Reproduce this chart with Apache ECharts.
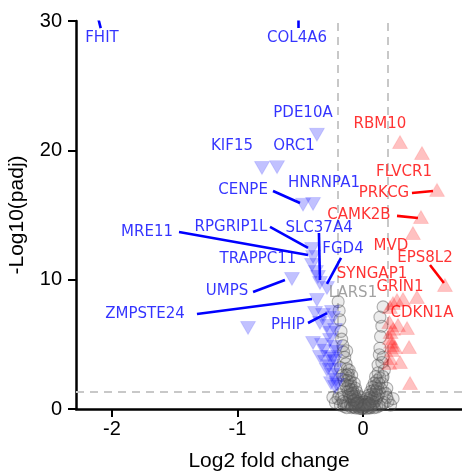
<!DOCTYPE html>
<html><head><meta charset="utf-8">
<script src="https://cdn.jsdelivr.net/npm/echarts@6/dist/echarts.min.js"></script>
<style>html,body{margin:0;padding:0;background:#fff}#c{width:462px;height:471px}</style>
</head><body><div id="c"></div>
<script>
// ---- data (log2 fold change, -log10 padj) ----
const xTicks = [-2, -1, 0];
const yTicks = [0, 10, 20, 30];
const fcCut = 0.2;
const padjCut = 1.3;

const downPoints = [
  [-2.096,31.5],[-0.518,31.2],[-0.367,21.2],[-0.805,18.64],[-0.685,18.7],[-0.478,15.8],[-0.398,15.85],
  [-0.406,12.37],[-0.398,11.76],[-0.406,11.14],[-0.375,10.6],[-0.359,10.21],[-0.566,10.05],[-0.343,9.74],
  [-0.287,9.36],[-0.367,8.43],[-0.916,6.26],[-0.382,7.42],[-0.319,7.27],[-0.247,7.5],[-0.239,7.04],
  [-0.343,6.65],[-0.287,6.42],[-0.223,6.11],[-0.263,5.88],[-0.398,5.1],[-0.327,4.95],[-0.263,5.34],
  [-0.223,4.8],[-0.215,4.41],[-0.343,4.02],[-0.263,4.02],[-0.223,3.71],[-0.303,3.63],[-0.287,3.02],
  [-0.223,3.02],[-0.247,2.63],[-0.215,2.24],[-0.223,1.7],[-0.207,1.86],[-0.255,2.0],[-0.27,3.3],
  [-0.31,4.5],[-0.24,3.9]
];
const upPoints = [
  [0.295,20.65],[0.47,19.8],[0.59,16.94],[0.462,14.85],[0.398,13.61],[0.653,9.59],
  [0.271,8.43],[0.319,8.51],[0.43,8.66],[0.239,8.2],[0.215,7.89],
  [0.21,6.73],[0.279,6.5],[0.351,6.26],[0.22,5.96],[0.215,5.49],[0.231,4.95],[0.255,4.8],[0.367,4.8],
  [0.231,4.56],[0.215,3.94],[0.295,3.63],[0.21,3.56],[0.375,2.01],[0.24,6.2],[0.225,5.2]
];
const nsPoints = [
  [-0.198,8.3],[-0.19,7.6],[-0.185,6.9],[-0.175,6.0],[-0.17,5.4],[-0.16,4.9],[-0.155,4.4],[-0.145,4.0],
  [-0.135,3.5],[-0.125,3.1],[-0.12,2.7],[-0.11,2.4],[-0.1,2.1],[-0.095,1.8],[-0.085,1.5],[-0.075,1.25],
  [-0.065,1.0],[-0.055,0.8],[-0.045,0.6],[-0.035,0.45],[-0.025,0.3],[-0.015,0.2],[-0.005,0.1],
  [-0.18,3.2],[-0.165,2.6],[-0.15,2.2],[-0.14,1.9],[-0.13,1.6],[-0.12,1.35],[-0.11,1.1],[-0.1,0.9],
  [-0.09,0.75],[-0.08,0.6],[-0.07,0.45],[-0.06,0.35],[-0.05,0.25],[-0.04,0.15],
  [-0.19,1.1],[-0.2,0.8],[-0.17,0.9],[-0.16,0.6],[-0.14,0.5],[-0.12,0.35],[-0.1,0.3],[-0.085,0.2],
  [-0.07,0.15],[-0.22,0.5],[-0.24,0.9],[-0.18,0.3],[-0.15,0.2],[-0.13,0.1],
  [-0.11,3.0],[-0.13,4.5],[-0.09,2.6],[-0.07,2.0],[-0.06,1.6],[-0.05,1.3],[-0.035,1.0],[-0.02,0.7],[-0.01,0.5],
  [0.16,7.9],[0.135,7.1],[0.15,6.4],[0.14,5.6],[0.135,4.7],[0.16,4.0],[0.15,3.6],[0.12,2.8],[0.11,2.2],
  [0.1,1.8],[0.085,1.45],[0.07,1.15],[0.06,0.9],[0.05,0.7],[0.04,0.5],[0.03,0.35],[0.02,0.22],[0.01,0.12],[0.0,0.05],
  [0.17,3.0],[0.16,2.5],[0.15,2.0],[0.14,1.6],[0.13,1.3],[0.12,1.05],[0.11,0.85],[0.1,0.65],[0.09,0.5],
  [0.08,0.38],[0.07,0.28],[0.06,0.18],[0.05,0.1],
  [0.18,1.2],[0.19,0.9],[0.2,0.6],[0.17,0.5],[0.15,0.35],[0.13,0.25],[0.11,0.15],[0.22,0.3],[0.24,0.8],[0.19,1.6],
  [0.12,3.4],[0.13,4.2],[0.1,2.5],[0.09,2.0],[0.075,1.7],[0.06,1.35],[0.045,1.05],[0.03,0.8],[0.015,0.55],
  [-0.03,0.05],[0.03,0.05],[-0.06,0.08],[0.06,0.08],[-0.09,0.1],[0.09,0.1],[-0.02,0.35],[0.02,0.35],
  [-0.04,0.55],[0.04,0.3],[-0.07,0.7],[0.07,0.6],[-0.08,0.95],[0.08,0.8],[-0.09,1.2],[0.095,1.1],
  [-0.1,1.5],[0.105,1.4],[-0.115,1.8],[0.115,1.6],[-0.125,2.2],[0.125,2.0],[-0.135,2.6],[0.135,2.4],
  [-0.01,0.02],[0.01,0.3],[-0.05,0.45],[0.05,0.4]
];

// gene annotations (label anchor in data units)
const labelNames  = ['FHIT','COL4A6','PDE10A','RBM10','KIF15','ORC1','FLVCR1','HNRNPA1','PRKCG','CENPE','CAMK2B','RPGRIP1L','SLC37A4','MRE11','FGD4','TRAPPC11','MVD','EPS8L2','SYNGAP1','GRIN1','UMPS','LARS1','ZMPSTE24','CDKN1A','PHIP'];
const labelGroups = ['down','down','down','up','down','down','up','down','up','down','up','down','down','down','down','down','up','up','up','up','down','ns','down','up','down'];
const labelX = [-2.08,-0.526,-0.478,0.135,-1.044,-0.55,0.327,-0.311,0.167,-0.956,-0.032,-1.052,-0.35,-1.721,-0.159,-0.837,0.223,0.494,0.072,0.295,-1.084,-0.08,-1.737,0.47,-0.598];
const labelY = [28.69,28.69,22.9,22.0,20.3,20.3,18.3,17.5,16.7,16.9,15.0,14.1,14.0,13.7,12.37,11.6,12.6,11.68,10.44,9.44,9.13,8.97,7.35,7.42,6.5];

// leader segments [from, to] in data units
const leaderGroups = ['down','down','down','down','down','down','down','down','down','down','up','up','up'];
const leaderFrom = [[-2.09,29.45],[-0.518,29.45],[-0.717,16.86],[-0.741,14.08],[-1.466,13.69],[-0.351,13.61],[-0.175,11.68],[-0.876,9.05],[-1.323,7.35],[-0.438,6.65],[0.39,16.7],[0.271,14.93],[0.534,11.14]];
const leaderTo   = [[-2.12,30.6],[-0.518,30.6],[-0.502,15.93],[-0.438,12.45],[-0.438,11.91],[-0.343,9.98],[-0.287,9.67],[-0.622,9.98],[-0.406,8.51],[-0.287,7.42],[0.558,16.86],[0.438,14.77],[0.645,9.74]];

// ---- styles ----
const groupText = {down:'#0000ff', up:'#ff0000', ns:'#8a8a8a'};
const axisFont = 'Liberation Sans, Arial, sans-serif';
const labelFont = 'DejaVu Sans, sans-serif';

const chart = echarts.init(document.getElementById('c'), null, {renderer:'canvas'});
chart.setOption({
  animation:false,
  backgroundColor:'#fff',
  grid:{left:76, right:0, top:21, bottom:62, containLabel:false, outerBoundsMode:'none'},
  xAxis:{
    type:'value', min:-2.287, max:0.789,
    name:'Log2 fold change', nameLocation:'middle', nameGap:42,
    nameTextStyle:{fontFamily:axisFont, fontSize:21, color:'#000'},
    axisLine:{show:true, onZero:false, lineStyle:{color:'#000', width:2.5}},
    axisTick:{show:true, length:8, lineStyle:{color:'#000', width:2}, customValues:xTicks},
    axisLabel:{fontFamily:axisFont, fontSize:20, color:'#000', margin:10, customValues:xTicks},
    splitLine:{show:false}
  },
  yAxis:{
    type:'value', min:0, max:30, interval:10,
    name:'-Log10(padj)', nameLocation:'middle', nameGap:48,
    nameTextStyle:{fontFamily:axisFont, fontSize:21, color:'#000'},
    axisLine:{show:true, onZero:false, lineStyle:{color:'#000', width:2.5}},
    axisTick:{show:true, length:8, lineStyle:{color:'#000', width:2}, customValues:yTicks},
    axisLabel:{fontFamily:axisFont, fontSize:20, color:'#000', margin:14, customValues:yTicks},
    splitLine:{show:false}
  },
  graphic:[{type:'rect', shape:{x:78, y:0, width:384, height:20.5}, style:{fill:'#fff'}, z:100}],
  series:[
    {
      type:'scatter', data:nsPoints, symbol:'circle', symbolSize:12, clip:true, z:2,
      itemStyle:{color:'rgba(110,110,110,0.16)', borderColor:'rgba(80,80,80,0.55)', borderWidth:1.1},
      markLine:{
        silent:true, symbol:'none', label:{show:false}, z:1,
        lineStyle:{type:[8,6], color:'#c8c8c8', width:2},
        data:[{xAxis:-fcCut},{xAxis:fcCut},{yAxis:padjCut}]
      }
    },
    {
      type:'scatter', data:downPoints, symbol:'triangle', symbolRotate:180, symbolSize:[15,13], clip:true, z:3,
      itemStyle:{color:'rgba(0,0,255,0.3)', borderColor:'rgba(0,0,255,0.15)', borderWidth:1}
    },
    {
      type:'scatter', data:upPoints, symbol:'triangle', symbolSize:[15,13], clip:true, z:3,
      itemStyle:{color:'rgba(255,0,0,0.3)', borderColor:'rgba(255,0,0,0.15)', borderWidth:1}
    },
    {
      type:'lines', coordinateSystem:'cartesian2d', z:4, clip:true, silent:true,
      lineStyle:{width:2.6, opacity:1},
      data:leaderFrom.map((f,i)=>({coords:[f, leaderTo[i]], lineStyle:{color:groupText[leaderGroups[i]]}}))
    },
    {
      type:'scatter', z:5, symbolSize:0.01, silent:true, clip:false,
      data:labelNames.map((n,i)=>({name:n, value:[labelX[i], labelY[i]],
        label:{color:groupText[labelGroups[i]]}})),
      label:{show:true, position:'inside', formatter:'{b}', fontFamily:labelFont, fontSize:15}
    }
  ]
});
</script></body></html>
